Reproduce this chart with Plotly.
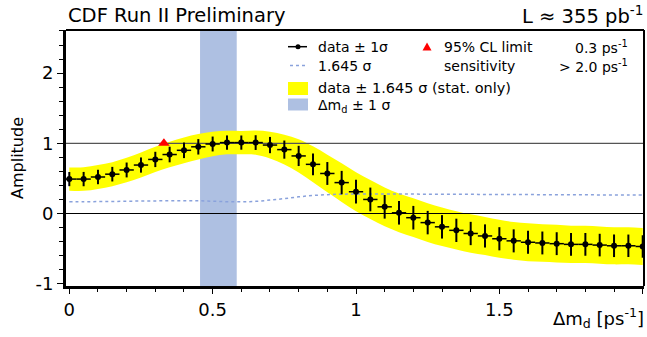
import plotly.graph_objects as go

# ---------------- data ----------------
dm = [0.00, 0.05, 0.10, 0.15, 0.20, 0.25, 0.30, 0.35, 0.40, 0.45,
      0.50, 0.55, 0.60, 0.65, 0.70, 0.75, 0.80, 0.85, 0.90, 0.95,
      1.00, 1.05, 1.10, 1.15, 1.20, 1.25, 1.30, 1.35, 1.40, 1.45,
      1.50, 1.55, 1.60, 1.65, 1.70, 1.75, 1.80, 1.85, 1.90, 1.95, 2.00]
amplitude = [0.49, 0.49, 0.52, 0.56, 0.62, 0.69, 0.77, 0.84, 0.90, 0.95,
             0.99, 1.01, 1.01, 1.01, 0.975, 0.91, 0.82, 0.70, 0.57, 0.44,
             0.31, 0.20, 0.095, 0.01, -0.06, -0.13, -0.19, -0.24, -0.285, -0.32,
             -0.36, -0.39, -0.41, -0.42, -0.43, -0.44, -0.44, -0.45, -0.46, -0.46, -0.47]
sigma = [0.101, 0.102, 0.103, 0.104, 0.106, 0.108, 0.109, 0.111, 0.111, 0.110,
         0.106, 0.102, 0.101, 0.105, 0.116, 0.129, 0.144, 0.156, 0.163, 0.167,
         0.169, 0.169, 0.168, 0.168, 0.168, 0.167, 0.167, 0.166, 0.166, 0.165,
         0.165, 0.164, 0.164, 0.163, 0.163, 0.162, 0.162, 0.161, 0.161, 0.160, 0.160]
bin_half_width = 0.025
sens_factor = 1.645
limit_x = [0.33]
limit_y = [1.0]
dmd_center = 0.52
dmd_error = 0.064
x_tick_vals = [0, 0.5, 1, 1.5, 2]
x_tick_text = ["0", "0.5", "1", "1.5", "2"]
y_tick_vals = [-1, 0, 1, 2]
y_tick_text = ["-1", "0", "1", "2"]

# ---------------- derived ----------------
band_hi = [a + sens_factor * s for a, s in zip(amplitude, sigma)]
band_lo = [a - sens_factor * s for a, s in zip(amplitude, sigma)]
sens_line = [sens_factor * s for s in sigma]

W, H = 647, 337
ML, MR, MT, MB = 66, 3, 30, 51
PW, PH = W - ML - MR, H - MT - MB
FONT = "DejaVu Sans"
YELLOW = "#ffff00"
BLUE = "#aec0e2"
DOT = "#8aa2dc"


def px(x):
    return (x - ML) / PW


def py(y):
    return (H - MB - y) / PH


fig = go.Figure()

# yellow band
fig.add_trace(go.Scatter(x=dm, y=band_lo, mode="lines", line=dict(width=0, shape="spline"),
                         hoverinfo="skip", showlegend=False))
fig.add_trace(go.Scatter(x=dm, y=band_hi, mode="lines", line=dict(width=0, shape="spline"),
                         fill="tonexty", fillcolor=YELLOW, hoverinfo="skip", showlegend=False))
# sensitivity dotted line
fig.add_trace(go.Scatter(x=dm, y=sens_line, mode="lines",
                         line=dict(color=DOT, width=1.5, dash="dot", shape="spline"),
                         showlegend=False))
# reference lines at 0 and 1
fig.add_trace(go.Scatter(x=[-0.1, 2.1], y=[1, 1], mode="lines",
                         line=dict(color="#555555", width=1.2), showlegend=False))
fig.add_trace(go.Scatter(x=[-0.1, 2.1], y=[0, 0], mode="lines",
                         line=dict(color="black", width=1.2), showlegend=False))
# data points
fig.add_trace(go.Scatter(
    x=dm, y=amplitude, mode="markers",
    marker=dict(color="black", size=6),
    error_y=dict(type="data", array=sigma, color="black", thickness=2, width=0),
    error_x=dict(type="constant", value=bin_half_width, color="black", thickness=1.5, width=0),
    showlegend=False))
# 95% CL limit
fig.add_trace(go.Scatter(x=limit_x, y=limit_y, mode="markers",
                         marker=dict(symbol="triangle-up", color="#ff0000", size=10),
                         showlegend=False))

shapes = [
    dict(type="rect", xref="x", yref="paper", x0=dmd_center - dmd_error, x1=dmd_center + dmd_error,
         y0=0, y1=1, fillcolor=BLUE, line=dict(width=0), layer="below"),
    dict(type="line", xref="paper", yref="paper", x0=0, x1=1, y0=1, y1=1,
         line=dict(color="black", width=2), layer="above"),
    dict(type="line", xref="paper", yref="paper", x0=1, x1=1, y0=0, y1=1,
         line=dict(color="black", width=2), layer="above"),
    # legend symbols
    dict(type="line", xref="paper", yref="paper", x0=px(288), x1=px(307), y0=py(46.7), y1=py(46.7),
         line=dict(color="black", width=1.5)),
    dict(type="circle", xref="paper", yref="paper", x0=px(295.5), x1=px(300.5), y0=py(49.2), y1=py(44.2),
         fillcolor="black", line=dict(color="black", width=0)),
    dict(type="path", xref="paper", yref="paper",
         path=f"M {px(422.5)} {py(50.5)} L {px(431.5)} {py(50.5)} L {px(427)} {py(42.5)} Z",
         fillcolor="#ff0000", line=dict(width=0)),
    dict(type="line", xref="paper", yref="paper", x0=px(290), x1=px(307), y0=py(65.5), y1=py(65.5),
         line=dict(color=DOT, width=1.5, dash="dot")),
    dict(type="rect", xref="paper", yref="paper", x0=px(288), x1=px(308), y0=py(95), y1=py(82),
         fillcolor=YELLOW, line=dict(width=0)),
    dict(type="rect", xref="paper", yref="paper", x0=px(288), x1=px(308), y0=py(110.5), y1=py(98.5),
         fillcolor=BLUE, line=dict(width=0)),
]

LF = 14
annotations = [
    dict(text="CDF Run II Preliminary", x=px(66), y=py(15.5), xanchor="left", yanchor="middle",
         font=dict(size=19.5)),
    dict(text="L ≈ 355 pb<sup>-1</sup>", x=px(645), y=py(15), xanchor="right", yanchor="middle",
         font=dict(size=19.5)),
    dict(text="Amplitude", x=px(17), y=py(158), xanchor="center", yanchor="middle", textangle=-90,
         font=dict(size=16)),
    dict(text="Δm<sub>d</sub> [ps<sup>-1</sup>]", x=px(646), y=py(318), xanchor="right", yanchor="middle",
         font=dict(size=18)),
    dict(text="data ± 1σ", x=px(316), y=py(46.7), xanchor="left", yanchor="middle", font=dict(size=LF)),
    dict(text="95% CL limit", x=px(442), y=py(46.7), xanchor="left", yanchor="middle", font=dict(size=LF)),
    dict(text="0.3 ps<sup>-1</sup>", x=px(630), y=py(46.7), xanchor="right", yanchor="middle", font=dict(size=LF)),
    dict(text="1.645 σ", x=px(316), y=py(65.5), xanchor="left", yanchor="middle", font=dict(size=LF)),
    dict(text="sensitivity", x=px(442), y=py(65.5), xanchor="left", yanchor="middle", font=dict(size=LF)),
    dict(text="&gt; 2.0 ps<sup>-1</sup>", x=px(630), y=py(65.5), xanchor="right", yanchor="middle", font=dict(size=LF)),
    dict(text="data ± 1.645 σ (stat. only)", x=px(316), y=py(88), xanchor="left", yanchor="middle",
         font=dict(size=14.5)),
    dict(text="Δm<sub>d</sub> ± 1 σ", x=px(316), y=py(105.5), xanchor="left", yanchor="middle",
         font=dict(size=LF)),
]
for a in annotations:
    a.update(xref="paper", yref="paper", showarrow=False)
    a["font"].update(family=FONT, color="black")

fig.update_layout(
    width=W, height=H,
    margin=dict(l=ML, r=MR, t=MT, b=MB, pad=0),
    paper_bgcolor="white", plot_bgcolor="white",
    font=dict(family=FONT, color="black"),
    shapes=shapes, annotations=annotations,
    showlegend=False,
    xaxis=dict(range=[-0.0115, 2.0045], tickmode="array", tickvals=x_tick_vals, ticktext=x_tick_text,
               showgrid=False, zeroline=False, showline=True, linecolor="black", linewidth=3,
               ticks="outside", ticklen=5, tickwidth=1, tickcolor="black",
               tickfont=dict(size=18, family=FONT),
               minor=dict(dtick=0.1, tick0=0, ticks="outside", ticklen=3, tickcolor="black", showgrid=False)),
    yaxis=dict(range=[-1.033, 2.614], tickmode="array", tickvals=y_tick_vals, ticktext=y_tick_text,
               showgrid=False, zeroline=False, showline=True, linecolor="black", linewidth=3,
               ticks="outside", ticklen=6, tickwidth=1, tickcolor="black",
               tickfont=dict(size=18, family=FONT),
               minor=dict(dtick=0.2, tick0=0, ticks="outside", ticklen=4, tickcolor="black", showgrid=False)),
)

fig.write_html("out.html")
